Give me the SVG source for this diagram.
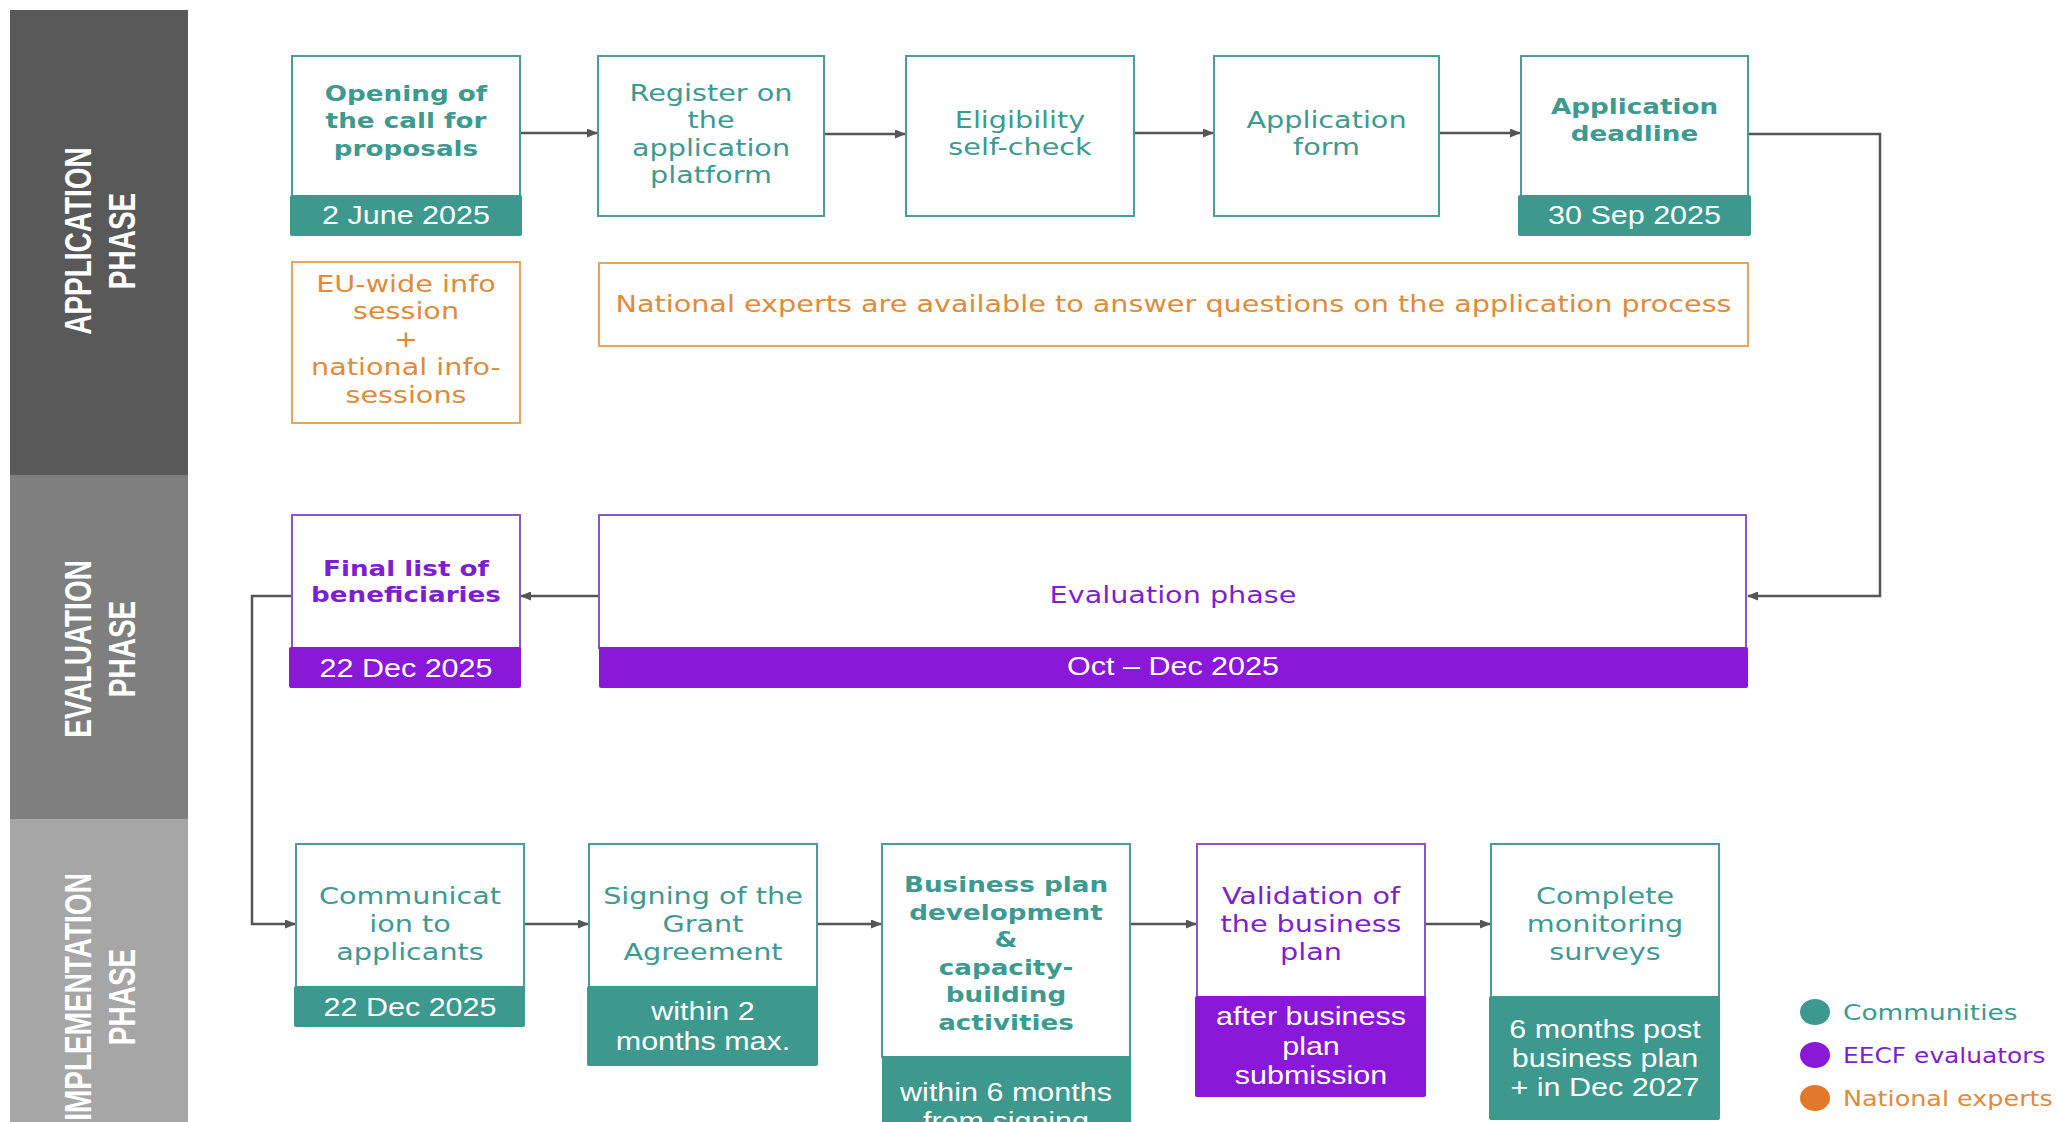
<svg xmlns="http://www.w3.org/2000/svg" width="2061" height="1122" viewBox="0 0 2061 1122">
<style>
.n{font-family:"DejaVu Sans",sans-serif;font-size:23.5px;text-anchor:middle}
.b{font-family:"DejaVu Sans",sans-serif;font-weight:bold;font-size:21.5px;text-anchor:middle}
.d{font-family:"Liberation Sans",Arial,sans-serif;font-size:25px;fill:#fff;text-anchor:middle}
.ph{font-family:"Liberation Sans",Arial,sans-serif;font-weight:bold;font-size:28px;fill:#fff;text-anchor:middle}
.lg{font-family:"DejaVu Sans",sans-serif;font-size:21px}
.tt{fill:#3d9a8f}.pt{fill:#7d1fd0}.ot{fill:#e08b3a}
.tb{fill:#fff;stroke:#4a9d94;stroke-width:2}
.pb{fill:#fff;stroke:#8a55c4;stroke-width:2}
.ob{fill:#fff;stroke:#e6a55a;stroke-width:2}
.tbar{fill:#3d988d}.pbar{fill:#8a18d9}
.cn{fill:none;stroke:#555;stroke-width:2.5}
</style>
<defs>
<marker id="ah" markerWidth="11" markerHeight="9" refX="10" refY="4.5" orient="auto" markerUnits="userSpaceOnUse"><path d="M0,0 L11,4.5 L0,9 z" fill="#555"/></marker>
</defs>
<rect width="2061" height="1122" fill="#fff"/>

<g id="phases">
<rect x="10" y="10" width="178" height="465" fill="#595959"/>
<rect x="10" y="475" width="178" height="344" fill="#7f7f7f"/>
<rect x="10" y="819" width="178" height="303" fill="#a6a6a6"/>
<text class="ph" transform="translate(99 241) scale(1.32 1) rotate(-90)"><tspan x="0" y="-6">APPLICATION</tspan><tspan x="0" y="27">PHASE</tspan></text>
<text class="ph" transform="translate(99 649) scale(1.32 1) rotate(-90)"><tspan x="0" y="-6">EVALUATION</tspan><tspan x="0" y="27">PHASE</tspan></text>
<text class="ph" transform="translate(99 997) scale(1.32 1) rotate(-90)"><tspan x="0" y="-6">IMPLEMENTATION</tspan><tspan x="0" y="27">PHASE</tspan></text>
</g>

<g id="connectors">
<line class="cn" x1="520" y1="133" x2="597" y2="133" marker-end="url(#ah)"/>
<line class="cn" x1="824" y1="134" x2="905" y2="134" marker-end="url(#ah)"/>
<line class="cn" x1="1134" y1="133" x2="1213" y2="133" marker-end="url(#ah)"/>
<line class="cn" x1="1439" y1="133" x2="1520" y2="133" marker-end="url(#ah)"/>
<polyline class="cn" points="1748,134 1880,134 1880,596 1748,596" marker-end="url(#ah)"/>
<line class="cn" x1="599" y1="596" x2="521" y2="596" marker-end="url(#ah)"/>
<polyline class="cn" points="292,596 252,596 252,924 295,924" marker-end="url(#ah)"/>
<line class="cn" x1="524" y1="924" x2="588" y2="924" marker-end="url(#ah)"/>
<line class="cn" x1="817" y1="924" x2="881" y2="924" marker-end="url(#ah)"/>
<line class="cn" x1="1130" y1="924" x2="1196" y2="924" marker-end="url(#ah)"/>
<line class="cn" x1="1425" y1="924" x2="1490" y2="924" marker-end="url(#ah)"/>
</g>

<g id="opening">
<rect class="tb" x="292" y="56" width="228" height="140"/>
<rect class="tbar" x="290" y="195" width="232" height="41" rx="2"/>
<g transform="translate(406 0) scale(1.22 1)">
<text class="b tt"><tspan x="0" y="101">Opening of</tspan><tspan x="0" y="128">the call for</tspan><tspan x="0" y="156">proposals</tspan></text>
<text class="d" x="0" y="224">2 June 2025</text>
</g>
</g>

<g id="register">
<rect class="tb" x="598" y="56" width="226" height="160"/>
<g transform="translate(711 0) scale(1.22 1)">
<text class="n tt"><tspan x="0" y="101">Register on</tspan><tspan x="0" y="128.5">the</tspan><tspan x="0" y="156">application</tspan><tspan x="0" y="183.5">platform</tspan></text>
</g>
</g>

<g id="eligibility">
<rect class="tb" x="906" y="56" width="228" height="160"/>
<g transform="translate(1020 0) scale(1.22 1)">
<text class="n tt"><tspan x="0" y="128">Eligibility</tspan><tspan x="0" y="155.5">self-check</tspan></text>
</g>
</g>

<g id="appform">
<rect class="tb" x="1214" y="56" width="225" height="160"/>
<g transform="translate(1326.5 0) scale(1.22 1)">
<text class="n tt"><tspan x="0" y="128">Application</tspan><tspan x="0" y="155.5">form</tspan></text>
</g>
</g>

<g id="deadline">
<rect class="tb" x="1521" y="56" width="227" height="140"/>
<rect class="tbar" x="1518" y="195" width="233" height="41" rx="2"/>
<g transform="translate(1634.5 0) scale(1.22 1)">
<text class="b tt"><tspan x="0" y="114">Application</tspan><tspan x="0" y="141">deadline</tspan></text>
<text class="d" x="0" y="224">30 Sep 2025</text>
</g>
</g>

<g id="infosessions">
<rect class="ob" x="292" y="262" width="228" height="161"/>
<g transform="translate(406 0) scale(1.22 1)">
<text class="n ot"><tspan x="0" y="292">EU-wide info</tspan><tspan x="0" y="319.5">session</tspan><tspan x="0" y="347">+</tspan><tspan x="0" y="375.5">national info-</tspan><tspan x="0" y="403">sessions</tspan></text>
</g>
</g>

<g id="nationalexperts">
<rect class="ob" x="599" y="263" width="1149" height="83"/>
<g transform="translate(1173.5 0) scale(1.22 1)">
<text class="n ot" x="0" y="312">National experts are available to answer questions on the application process</text>
</g>
</g>

<g id="finallist">
<rect class="pb" x="292" y="515" width="228" height="133"/>
<rect class="pbar" x="289" y="647" width="232" height="41" rx="2"/>
<g transform="translate(406 0) scale(1.22 1)">
<text class="b pt"><tspan x="0" y="576">Final list of</tspan><tspan x="0" y="602">beneficiaries</tspan></text>
<text class="d" x="0" y="677">22 Dec 2025</text>
</g>
</g>

<g id="evaluation">
<rect class="pb" x="599" y="515" width="1147" height="133"/>
<rect class="pbar" x="599" y="647" width="1149" height="41" rx="2"/>
<g transform="translate(1173 0) scale(1.22 1)">
<text class="n pt" x="0" y="603">Evaluation phase</text>
<text class="d" x="0" y="675">Oct – Dec 2025</text>
</g>
</g>

<g id="communication">
<rect class="tb" x="296" y="844" width="228" height="143"/>
<rect class="tbar" x="294" y="986" width="231" height="41" rx="2"/>
<g transform="translate(410 0) scale(1.22 1)">
<text class="n tt"><tspan x="0" y="904">Communicat</tspan><tspan x="0" y="932">ion to</tspan><tspan x="0" y="960">applicants</tspan></text>
<text class="d" x="0" y="1016">22 Dec 2025</text>
</g>
</g>

<g id="signing">
<rect class="tb" x="589" y="844" width="228" height="143"/>
<rect class="tbar" x="587" y="986" width="231" height="80" rx="2"/>
<g transform="translate(703 0) scale(1.22 1)">
<text class="n tt"><tspan x="0" y="904">Signing of the</tspan><tspan x="0" y="932">Grant</tspan><tspan x="0" y="960">Agreement</tspan></text>
<text class="d"><tspan x="0" y="1020">within 2</tspan><tspan x="0" y="1050">months max.</tspan></text>
</g>
</g>

<g id="businessplan">
<rect class="tb" x="882" y="844" width="248" height="213"/>
<rect class="tbar" x="882" y="1056" width="249" height="80"/>
<g transform="translate(1006 0) scale(1.22 1)">
<text class="b tt"><tspan x="0" y="892.5">Business plan</tspan><tspan x="0" y="920">development</tspan><tspan x="0" y="947.5">&amp;</tspan><tspan x="0" y="975">capacity-</tspan><tspan x="0" y="1002.5">building</tspan><tspan x="0" y="1030">activities</tspan></text>
<text class="d"><tspan x="0" y="1101">within 6 months</tspan><tspan x="0" y="1130">from signing</tspan></text>
</g>
</g>

<g id="validation">
<rect class="pb" x="1197" y="844" width="228" height="153"/>
<rect class="pbar" x="1195" y="996" width="231" height="101" rx="2"/>
<g transform="translate(1311 0) scale(1.22 1)">
<text class="n pt"><tspan x="0" y="904">Validation of</tspan><tspan x="0" y="932">the business</tspan><tspan x="0" y="960">plan</tspan></text>
<text class="d"><tspan x="0" y="1025">after business</tspan><tspan x="0" y="1055">plan</tspan><tspan x="0" y="1084">submission</tspan></text>
</g>
</g>

<g id="monitoring">
<rect class="tb" x="1491" y="844" width="228" height="153"/>
<rect class="tbar" x="1489" y="996" width="231" height="124" rx="2"/>
<g transform="translate(1605 0) scale(1.22 1)">
<text class="n tt"><tspan x="0" y="904">Complete</tspan><tspan x="0" y="932">monitoring</tspan><tspan x="0" y="960">surveys</tspan></text>
<text class="d"><tspan x="0" y="1038">6 months post</tspan><tspan x="0" y="1067">business plan</tspan><tspan x="0" y="1096">+ in Dec 2027</tspan></text>
</g>
</g>

<g id="legend">
<ellipse cx="1815" cy="1012" rx="15" ry="13" fill="#3d988d"/>
<ellipse cx="1815" cy="1055" rx="15" ry="13" fill="#8a18d9"/>
<ellipse cx="1815" cy="1098" rx="15" ry="13" fill="#e07a2a"/>
<g transform="translate(1843 0) scale(1.22 1)">
<text class="lg tt" x="0" y="1020" textLength="143" lengthAdjust="spacingAndGlyphs">Communities</text>
<text class="lg pt" x="0" y="1063" textLength="166" lengthAdjust="spacingAndGlyphs">EECF evaluators</text>
<text class="lg ot" x="0" y="1106" textLength="172" lengthAdjust="spacingAndGlyphs">National experts</text>
</g>
</g>
</svg>
